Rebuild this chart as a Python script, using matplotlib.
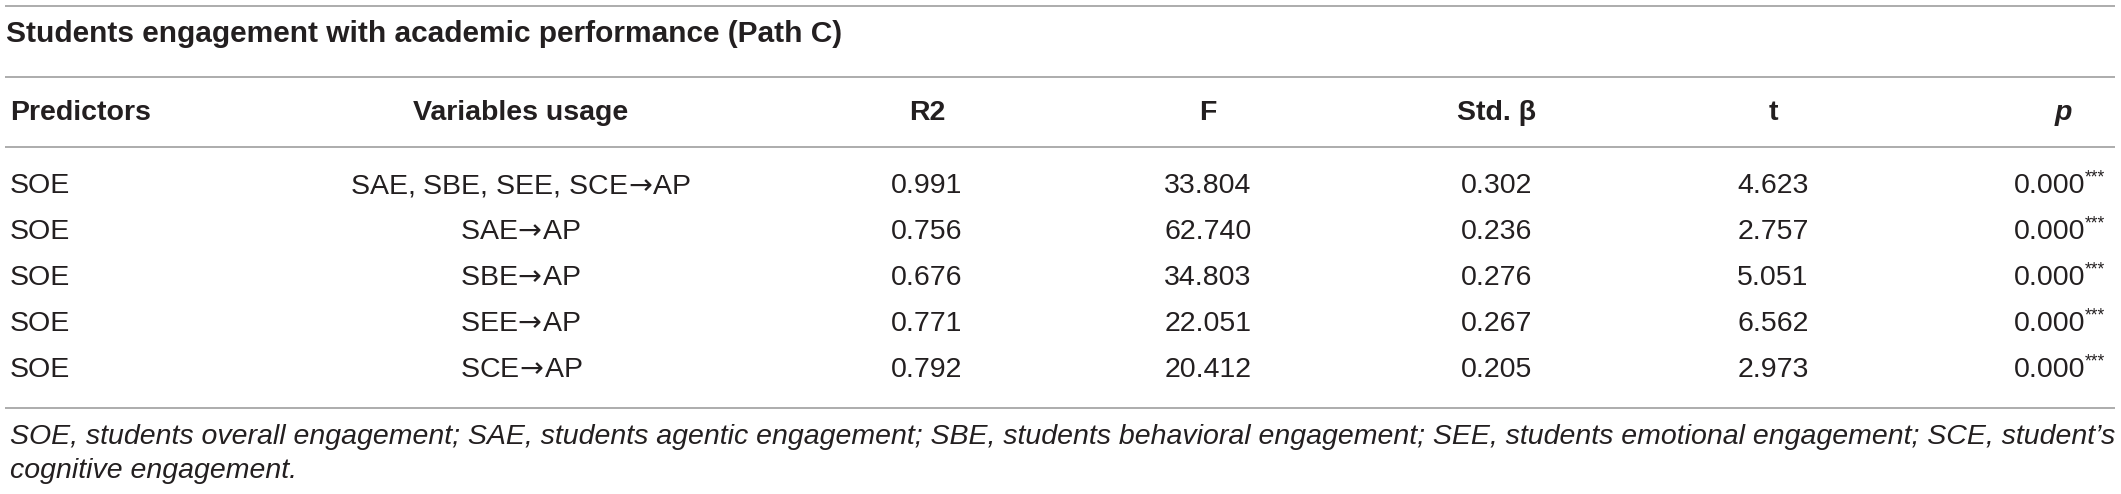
import matplotlib
matplotlib.use("Agg")
from matplotlib import pyplot as plt

title = "Students engagement with academic performance (Path C)"
headers = ["Predictors", "Variables usage", "R2", "F", "Std. \u03b2", "t", "p"]
predictors = ["SOE", "SOE", "SOE", "SOE", "SOE"]
usage = ["SAE, SBE, SEE, SCE\u2192AP", "SAE\u2192AP", "SBE\u2192AP", "SEE\u2192AP", "SCE\u2192AP"]
r2 = ["0.991", "0.756", "0.676", "0.771", "0.792"]
f_vals = ["33.804", "62.740", "34.803", "22.051", "20.412"]
std_beta = ["0.302", "0.236", "0.276", "0.267", "0.205"]
t_vals = ["4.623", "2.757", "5.051", "6.562", "2.973"]
p_vals = ["0.000", "0.000", "0.000", "0.000", "0.000"]
p_stars = ["***", "***", "***", "***", "***"]
note = ["SOE, students overall engagement; SAE, students agentic engagement; SBE, students behavioral engagement; "
        "SEE, students emotional engagement; SCE, student\u2019s",
        "cognitive engagement."]

plt.rcParams['font.family'] = ['Liberation Sans', 'DejaVu Sans']
plt.rcParams['mathtext.fontset'] = 'dejavusans'

W, H = 2121, 494
fig = plt.figure(figsize=(W / 100, H / 100), dpi=100)
ax = fig.add_axes([0, 0, 1, 1])
ax.set_xlim(0, W)
ax.set_ylim(H, 0)
ax.axis("off")

fs = 20.5
txt = "#231f20"
rule = "#a6a6a6"

# horizontal rules
for y in [6, 77, 147, 408]:
    ax.plot([5, 2115], [y, y], color=rule, lw=1.3, solid_capstyle="butt")

ax.text(6, 34, title, fontsize=21.5, fontweight="bold", color=txt, va="center", ha="left")

# column centres
col_x = [10, 521, 927, 1208, 1497, 1773, 2063]
head_y = 113
for i, h in enumerate(headers):
    ha = "left" if i == 0 else "center"
    style = "italic" if h == "p" else "normal"
    ax.text(col_x[i], head_y, h, fontsize=fs, fontweight="bold", fontstyle=style,
            color=txt, va="center", ha=ha)

row_y = [186, 232, 278, 324, 370]
for j in range(len(predictors)):
    y = row_y[j]
    ax.text(col_x[0], y, predictors[j], fontsize=fs, color=txt, va="center", ha="left")
    # arrow via mathtext (full-size glyph), negative spaces to keep it tight
    ax.text(col_x[1], y, usage[j].replace("\u2192", r"$\!\rightarrow\!$"), fontsize=fs,
            color=txt, va="center", ha="center")
    ax.text(col_x[2], y, r2[j], fontsize=fs, color=txt, va="center", ha="center")
    ax.text(col_x[3], y, f_vals[j], fontsize=fs, color=txt, va="center", ha="center")
    ax.text(col_x[4], y, std_beta[j], fontsize=fs, color=txt, va="center", ha="center")
    ax.text(col_x[5], y, t_vals[j], fontsize=fs, color=txt, va="center", ha="center")
    ax.text(2085, y, p_vals[j], fontsize=fs, color=txt, va="center", ha="right")
    ax.text(2085, y - 8, p_stars[j], fontsize=fs * 0.62, color=txt, va="center", ha="left")

note_y = [437, 471]
for k, line in enumerate(note):
    ax.text(10, note_y[k], line, fontsize=fs, fontstyle="italic", color=txt, va="center", ha="left")

fig.savefig("out.png", dpi=100)
